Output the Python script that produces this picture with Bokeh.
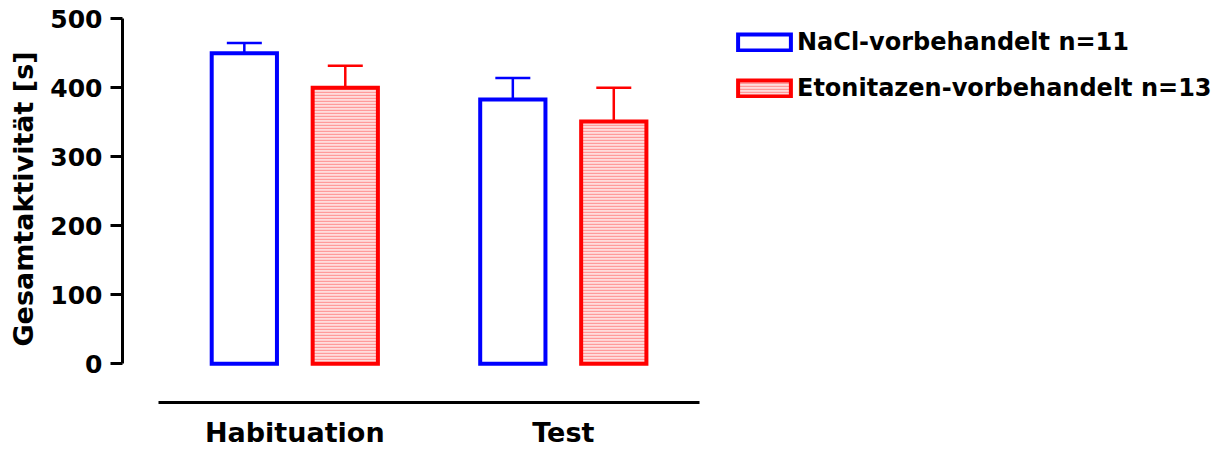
from bokeh.plotting import figure
from bokeh.models import (Range1d, FixedTicker, Legend, LegendItem, Whisker,
                          TeeHead, ColumnDataSource, Label)
from bokeh.embed import file_html
from bokeh.resources import INLINE

# Gesamtaktivität (Mittelwert ± SEM) je Phase und Vorbehandlung
phases = ["Habituation", "Test"]
groups = ["NaCl-vorbehandelt n=11", "Etonitazen-vorbehandelt n=13"]
nacl_mean = [450, 383]
nacl_sem = [15, 31]
eto_mean = [400, 351]
eto_sem = [32, 49]
y_ticks = [0, 100, 200, 300, 400, 500]

FONT = "DejaVu Sans"
BLUE = "#0000ff"
RED = "#ff0000"

dodge = 0.188
bar_w = 0.243

# the frame fills the canvas; both axes are pinned at fixed data positions
p = figure(width=1231, height=450, output_backend="svg", toolbar_location=None,
           x_range=Range1d(-1.0961, 3.4886), y_range=Range1d(-125.7, 526.5),
           min_border=0)
p.outline_line_color = None
p.xgrid.visible = False
p.ygrid.visible = False

xs = list(range(len(phases)))
src_nacl = ColumnDataSource(dict(
    x=[i - dodge for i in xs], top=nacl_mean,
    upper=[m + s for m, s in zip(nacl_mean, nacl_sem)]))
src_eto = ColumnDataSource(dict(
    x=[i + dodge for i in xs], top=eto_mean,
    upper=[m + s for m, s in zip(eto_mean, eto_sem)]))

# whiskers first so the bar outline sits on top of the stem
for src, col in ((src_nacl, BLUE), (src_eto, RED)):
    w = Whisker(source=src, base="x", lower="top", upper="upper",
                dimension="height", line_color=col, line_width=2.5,
                upper_head=TeeHead(size=35, line_color=col, line_width=2.5),
                lower_head=None)
    p.add_layout(w)

r_nacl = p.vbar(x="x", top="top", bottom=0, width=bar_w, source=src_nacl,
                fill_color="white", line_color=BLUE, line_width=4,
                line_join="miter")
r_eto = p.vbar(x="x", top="top", bottom=0, width=bar_w, source=src_eto,
               fill_color="#ffdcdc", line_color=RED, line_width=4,
               line_join="miter", hatch_pattern="horizontal_line",
               hatch_color="#ff9a9a", hatch_scale=3, hatch_weight=1.4)

# y axis: spans 0..500 only
ya = p.yaxis[0]
ya.fixed_location = -0.6417
ya.bounds = (0, 500)
ya.ticker = FixedTicker(ticks=y_ticks)
ya.minor_tick_line_color = None
ya.major_tick_in = 0
ya.major_tick_out = 12
ya.axis_line_width = 3
ya.major_tick_line_width = 3
ya.major_label_standoff = 8
ya.major_label_text_font = FONT
ya.major_label_text_font_size = "25px"
ya.major_label_text_font_style = "bold"
ya.major_label_text_color = "black"

# x axis: detached baseline below zero with the phase labels
xa = p.xaxis[0]
xa.fixed_location = -56.8
xa.bounds = (-0.5065, 1.508)
xa.ticker = FixedTicker(ticks=xs)
xa.major_label_overrides = {i: name for i, name in zip(xs, phases)}
xa.major_tick_line_color = None
xa.minor_tick_line_color = None
xa.major_tick_out = 0
xa.major_tick_in = 0
xa.axis_line_width = 3
xa.major_label_standoff = 14
xa.major_label_text_font = FONT
xa.major_label_text_font_size = "27px"
xa.major_label_text_font_style = "bold"
xa.major_label_text_color = "black"

ylabel = Label(x=23, y=251.5, x_units="screen", y_units="screen",
               text="Gesamtaktivität [s]", angle=90, angle_units="deg",
               text_align="center", text_baseline="alphabetic",
               text_font=FONT, text_font_size="27px", text_font_style="bold",
               text_color="black")
p.add_layout(ylabel)

legend = Legend(items=[LegendItem(label=groups[0], renderers=[r_nacl]),
                       LegendItem(label=groups[1], renderers=[r_eto])],
                location=(731, 348), padding=0, margin=0, spacing=18,
                glyph_width=66, glyph_height=20, label_standoff=0,
                label_text_font=FONT, label_text_font_size="24px",
                label_text_font_style="bold", label_text_color="black",
                border_line_color=None, background_fill_alpha=0)
p.add_layout(legend)

open("out.html", "w").write(file_html(p, INLINE))
